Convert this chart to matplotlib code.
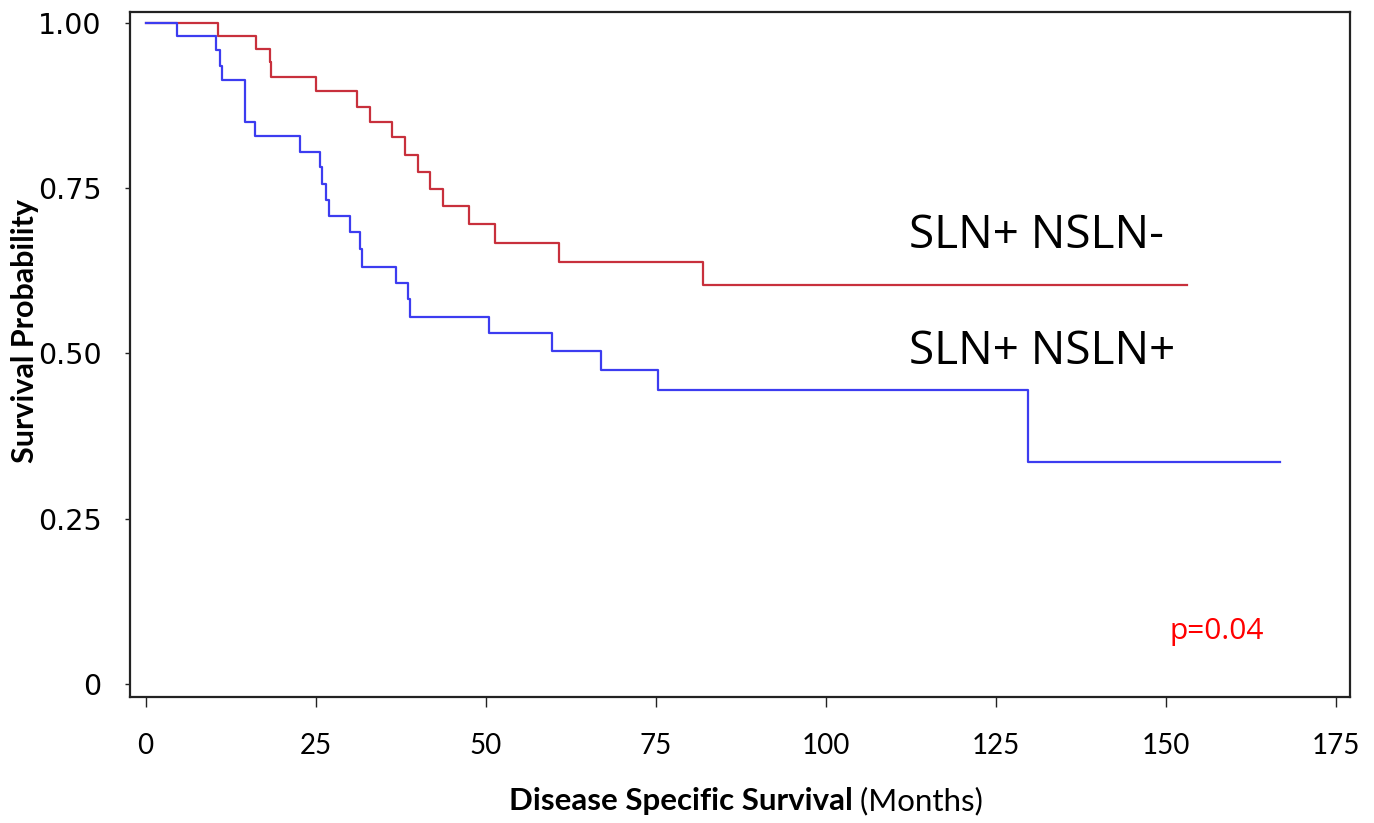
import matplotlib
matplotlib.use("Agg")
import matplotlib.pyplot as plt

# ---- data ----
neg_times = [0, 10.6, 16.2, 18.3, 18.5, 25.0, 31.1, 33.0, 36.2, 38.2, 40.0, 41.8,
             43.7, 47.6, 51.4, 60.8, 82.0]
neg_surv = [1.0, 0.979, 0.960, 0.940, 0.918, 0.897, 0.873, 0.849, 0.827, 0.800,
            0.774, 0.749, 0.723, 0.695, 0.666, 0.638, 0.603]
neg_end = 153.1

pos_times = [0, 4.6, 10.3, 10.96, 11.25, 14.7, 16.1, 22.7, 25.7, 25.9, 26.5, 27.0,
             30.0, 31.6, 31.8, 36.8, 38.6, 38.9, 50.5, 59.7, 67.0, 75.4, 129.8]
pos_surv = [1.0, 0.979, 0.958, 0.934, 0.913, 0.850, 0.829, 0.805, 0.781, 0.756,
            0.732, 0.708, 0.683, 0.657, 0.631, 0.607, 0.582, 0.555, 0.530, 0.504,
            0.475, 0.445, 0.335]
pos_end = 166.8

x_ticks = [0, 25, 50, 75, 100, 125, 150, 175]
y_ticks = [0, 0.25, 0.50, 0.75, 1.00]
y_ticklabels = ["0", "0.25", "0.50", "0.75", "1.00"]

label_neg = "SLN+ NSLN-"
label_pos = "SLN+ NSLN+"
p_text = "p=0.04"

RED = "#C8303C"
BLUE = "#3C3CF0"

fig = plt.figure(figsize=(13.74, 8.23), dpi=100)
ax = fig.add_axes([130 / 1374, 1 - 697 / 823, 1220 / 1374, 685 / 823])

ax.plot(neg_times + [neg_end], neg_surv + [neg_surv[-1]], drawstyle="steps-post",
        color=RED, lw=1.6)
ax.plot(pos_times + [pos_end], pos_surv + [pos_surv[-1]], drawstyle="steps-post",
        color=BLUE, lw=1.6)

ax.set_xlim(-2.28, 177.1)
ax.set_ylim(-0.0197, 1.016)

for s in ax.spines.values():
    s.set_linewidth(1.6)
    s.set_color("#222222")

ax.set_xticks(x_ticks)
ax.set_xticklabels([str(v) for v in x_ticks], family="Lato", fontsize=20)
ax.set_yticks(y_ticks)
ax.set_yticklabels(y_ticklabels, family="DejaVu Sans", fontsize=20.5)
ax.tick_params(axis="x", length=7, width=1, pad=19, color="#222222")
ax.tick_params(axis="y", length=3.5, width=1, pad=17, color="#222222")

ax.text(112.3, 0.677, label_neg, family="Open Sans", fontsize=33, ha="left",
        va="center", color="black")
ax.text(112.3, 0.502, label_pos, family="Open Sans", fontsize=33, ha="left",
        va="center", color="black")
ax.text(150.5, 0.08, p_text, family="Open Sans", fontsize=21.5, ha="left",
        va="center", color="#FF0000")

# y label
fig.text(25 / 1374, 1 - 331 / 823, "Survival Probability", family="Lato",
         weight="bold", fontsize=22, rotation=90, ha="center", va="center")

# x label: bold part + regular part, centred together
fig.canvas.draw()
r = fig.canvas.get_renderer()
t1 = fig.text(0, 1 - 801 / 823, "Disease Specific Survival", family="Lato",
              weight="bold", fontsize=22.5, ha="left", va="center")
t2 = fig.text(0, 1 - 801 / 823, " (Months)", family="Lato",
              fontsize=22.5, ha="left", va="center")
w1 = t1.get_window_extent(r).width
w2 = t2.get_window_extent(r).width
cx = 746
x0 = cx - (w1 + w2) / 2
t1.set_x(x0 / 1374)
t2.set_x((x0 + w1) / 1374)

fig.savefig("out.png", dpi=100)
